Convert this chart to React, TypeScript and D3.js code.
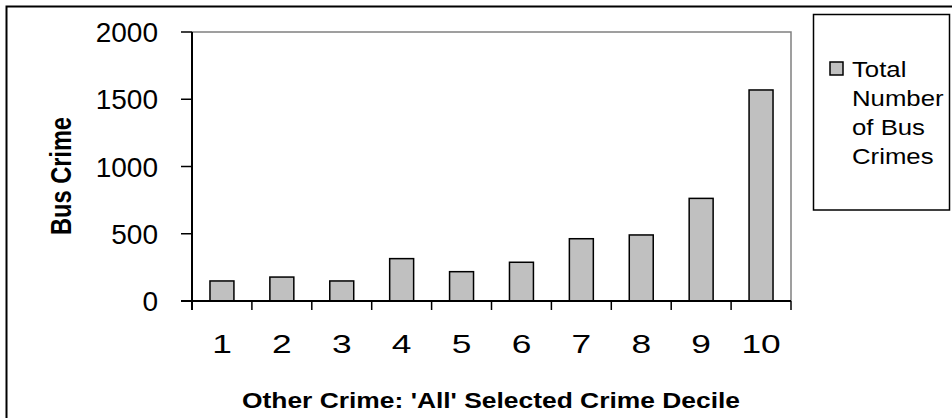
import React from "react";
import * as d3 from "d3";

const categories = ["1", "2", "3", "4", "5", "6", "7", "8", "9", "10"];
const busCrimes = [149, 178, 149, 315, 218, 288, 463, 491, 763, 1569];
const yTicks = [0, 500, 1000, 1500, 2000];
const legendLines = ["Total", "Number", "of Bus", "Crimes"];
const xTitle = "Other Crime: 'All' Selected Crime Decile";
const yTitle = "Bus Crime";

const W = 952;
const H = 418;
const FONT = "'Liberation Sans', Arial, Helvetica, sans-serif";

export default function App() {
  const left = 192, right = 791, top = 32, bottom = 301;
  const x = d3.scaleBand<string>().domain(categories).range([left, right]).padding(0);
  const y = d3.scaleLinear().domain([0, 2000]).range([bottom, top]);
  const bw = x.bandwidth() * 0.4;

  return (
    <svg
      width={W}
      height={H}
      style={{ position: "fixed", left: 0, top: 0, background: "#fff" }}
      fontFamily={FONT}
    >
      <rect x={0} y={0} width={W} height={H} fill="#fff" />
      {/* outer border */}
      <rect x={6.5} y={6.5} width={W + 10} height={H + 10} fill="none" stroke="#000" strokeWidth={2} />

      {/* plot area top/right border */}
      <path d={`M${left},${top}H${right}V${bottom}`} fill="none" stroke="#808080" strokeWidth={1.5} />

      {/* bars */}
      {busCrimes.map((v, i) => {
        const cx = (x(categories[i]) as number) + x.bandwidth() / 2;
        return (
          <rect
            key={i}
            x={cx - bw / 2}
            y={y(v)}
            width={bw}
            height={y(0) - y(v)}
            fill="#c0c0c0"
            stroke="#000"
            strokeWidth={1.5}
          />
        );
      })}

      {/* y axis */}
      <line x1={left} x2={left} y1={top} y2={bottom + 9} stroke="#000" strokeWidth={2} />
      {yTicks.map((t) => (
        <g key={t}>
          <line x1={left - 11} x2={left} y1={y(t)} y2={y(t)} stroke="#000" strokeWidth={1.5} />
          <text x={158} y={y(t) + 10} fontSize={28} textAnchor="end" fill="#000">
            {t}
          </text>
        </g>
      ))}

      {/* x axis */}
      <line x1={left - 11} x2={right} y1={bottom} y2={bottom} stroke="#000" strokeWidth={2} />
      {categories.map((c, i) => (
        <line
          key={"t" + i}
          x1={x(c) as number}
          x2={x(c) as number}
          y1={bottom}
          y2={bottom + 9}
          stroke="#000"
          strokeWidth={1.5}
        />
      ))}
      <line x1={right} x2={right} y1={bottom} y2={bottom + 9} stroke="#000" strokeWidth={1.5} />
      {categories.map((c) => (
        <g key={"l" + c} transform={`translate(${(x(c) as number) + x.bandwidth() / 2},353) scale(1.38,1)`}>
          <text x={0} y={0} fontSize={25.6} textAnchor="middle" fill="#000">
            {c}
          </text>
        </g>
      ))}

      {/* axis titles */}
      <text
        x={491}
        y={408}
        fontSize={22.5}
        fontWeight="bold"
        textAnchor="middle"
        textLength={498}
        lengthAdjust="spacingAndGlyphs"
        fill="#000"
      >
        {xTitle}
      </text>
      <g transform="translate(70.7,176) scale(1.22,1) rotate(-90)">
        <text x={0} y={0} fontSize={23.6} fontWeight="bold" textAnchor="middle" fill="#000">
          {yTitle}
        </text>
      </g>

      {/* legend */}
      <rect x={813.5} y={14.5} width={136} height={195.5} fill="#fff" stroke="#000" strokeWidth={1.5} />
      <rect x={830} y={62} width={13} height={13} fill="#c0c0c0" stroke="#000" strokeWidth={1.5} />
      <g transform="translate(852,0) scale(1.12,1)">
        {legendLines.map((l, i) => (
          <text key={l} x={0} y={77 + i * 29} fontSize={23} fill="#000">
            {l}
          </text>
        ))}
      </g>
    </svg>
  );
}
